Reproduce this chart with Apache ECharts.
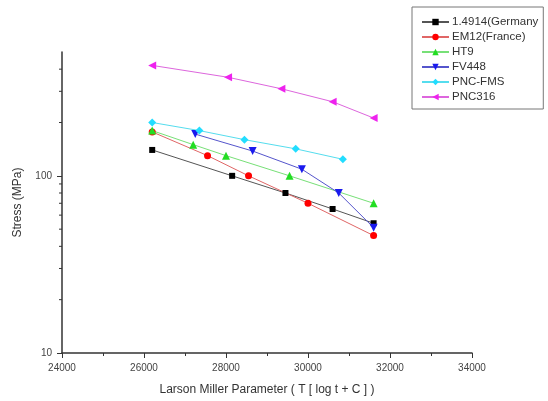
<html>
    <head>
        <meta charset="utf-8">
        <script src="https://cdn.jsdelivr.net/npm/echarts@6/dist/echarts.min.js"></script>
        <style>
            html, body { margin: 0; padding: 0; background: #fff; }
            #main { width: 548px; height: 401px; }
        </style>
    </head>
    <body>
        <div id="main"></div>

        <script>

        // Larson Miller parameter / stress (MPa) pairs
        var germany = [[26200, 140], [28150, 100], [29450, 80], [30600, 65], [31600, 54]];
        var em12 = [[26200, 177], [27550, 130], [28550, 100], [30000, 70], [31600, 46]];
        var ht9 = [[26200, 180], [27200, 150], [28000, 130], [29550, 100], [31600, 70]];
        var fv448 = [[27250, 172], [28650, 138], [29850, 109], [30750, 80], [31600, 51]];
        var pncFms = [[26200, 200], [27350, 180], [28450, 160], [29700, 142], [30850, 124]];
        var pnc316 = [[26200, 420], [28050, 360], [29350, 310], [30600, 262], [31600, 212]];

        // minor ticks of the log axis
        var yMinorTicks = [20, 30, 40, 50, 60, 70, 80, 90, 200, 300, 400];

        var font = 'Liberation Sans, Arial, sans-serif';

        function makeSeries(name, data, symbol, size, rotate, color, lineColor) {
            return {
                name: name,
                type: 'line',
                data: data,
                symbol: symbol,
                symbolSize: size,
                symbolRotate: rotate,
                itemStyle: { color: color },
                lineStyle: { color: lineColor, width: 1 },
                animation: false
            };
        }

        var option = {
            backgroundColor: '#fff',
            animation: false,
            textStyle: { fontFamily: font },
            grid: {
                left: 62,
                right: 76,
                top: 52,
                bottom: 48
            },
            legend: {
                orient: 'vertical',
                left: 412,
                top: 7,
                padding: [9, 5, 6, 9],
                itemWidth: 27,
                itemHeight: 8,
                itemGap: 3,
                borderColor: '#777',
                borderWidth: 1,
                textStyle: { fontSize: 11.5, color: '#333', fontFamily: font, padding: [0, 0, 0, -2] },
                data: ['1.4914(Germany', 'EM12(France)', 'HT9', 'FV448', 'PNC-FMS', 'PNC316']
            },
            xAxis: {
                type: 'value',
                min: 24000,
                max: 34000,
                interval: 2000,
                name: 'Larson Miller Parameter ( T [ log t + C ] )',
                nameLocation: 'middle',
                nameGap: 31,
                nameTextStyle: { fontSize: 12, color: '#333' },
                axisLine: { lineStyle: { color: '#333', width: 1.5 } },
                axisTick: { length: 5, lineStyle: { color: '#333' } },
                minorTick: { show: true, splitNumber: 2, length: 3, lineStyle: { color: '#333' } },
                axisLabel: {
                    fontSize: 10,
                    color: '#444',
                    margin: 10,
                    formatter: function (v) { return String(v); }
                },
                splitLine: { show: false }
            },
            yAxis: {
                type: 'log',
                logBase: 10,
                min: 10,
                max: 500,
                name: 'Stress (MPa)',
                nameLocation: 'middle',
                nameGap: 38,
                nameTextStyle: { fontSize: 12, color: '#333' },
                axisLine: { show: true, lineStyle: { color: '#333', width: 1.5 } },
                axisTick: { show: true, length: 5, lineStyle: { color: '#333' } },
                axisLabel: { fontSize: 10, color: '#444', margin: 10, showMaxLabel: false },
                splitLine: { show: false }
            },
            series: [
                makeSeries('1.4914(Germany', germany, 'rect', 6, 0, '#000', '#555'),
                makeSeries('EM12(France)', em12, 'circle', 7, 0, '#f00', '#e06666'),
                makeSeries('HT9', ht9, 'triangle', 8, 0, '#22dd22', '#77e077'),
                makeSeries('FV448', fv448, 'triangle', 8, 180, '#1a1aee', '#5555cc'),
                makeSeries('PNC-FMS', pncFms, 'diamond', 8, 0, '#22ddff', '#55ddee'),
                makeSeries('PNC316', pnc316, 'triangle', 8, 90, '#ee22ee', '#dd66dd'),
                {
                    type: 'custom',
                    silent: true,
                    animation: false,
                    data: yMinorTicks,
                    renderItem: function (params, api) {
                        var p = api.coord([24000, api.value(0)]);
                        return {
                            type: 'line',
                            shape: { x1: p[0] - 3, y1: p[1], x2: p[0], y2: p[1] },
                            style: { stroke: '#333', lineWidth: 1 }
                        };
                    },
                    encode: { y: 0 }
                }
            ]
        };

        var myChart = echarts.init(document.getElementById('main'));
        myChart.setOption(option);

        </script>
    </body>
</html>
